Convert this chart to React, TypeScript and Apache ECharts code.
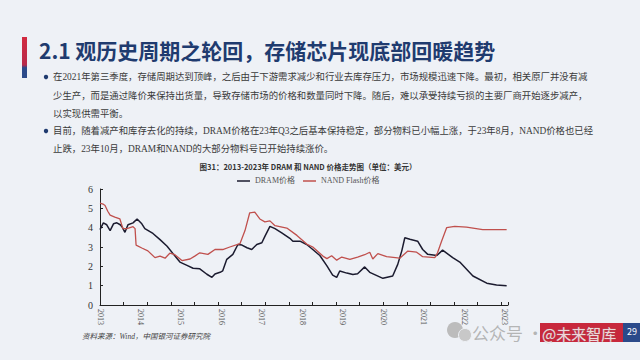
import React, { useEffect, useRef } from "react";
import * as echarts from "echarts";

const yearLabels = ["2013", "2014", "2015", "2016", "2017", "2018", "2019", "2020", "2021", "2022", "2023"];

// [months since Jan 2013, price USD]
const dramData: [number, number][] = [
  [0, 3.9], [1, 4.25], [2, 4.15], [3, 3.85], [4, 4.2], [5, 4.25], [6, 4.15], [6.5, 4.05], [7.4, 3.76],
  [8.3, 4.15], [9.8, 4.25], [11, 4.45], [12.4, 4.2], [13.3, 3.95], [15.7, 3.7], [17.8, 3.38],
  [19.9, 3.04], [21.6, 2.67], [23.7, 2.22], [25.8, 2.05], [27.6, 1.9], [29.6, 1.87], [31.7, 1.59],
  [33.2, 1.43], [34.1, 1.6], [35.6, 1.69], [36.4, 1.77], [37.6, 2.36], [39.4, 2.62], [40.9, 3.13],
  [42.1, 3.1], [43.6, 2.96], [45, 2.87], [46.5, 3.13], [48, 3.22], [48.9, 3.55], [50.4, 4.07],
  [51.9, 3.95], [53.9, 3.73], [56.3, 3.45], [57.2, 3.3], [59.3, 3.3], [61.3, 3.13], [63.1, 2.87],
  [65.2, 2.56], [67.3, 2.02], [69, 1.55], [70.2, 1.43], [71.1, 1.76], [73.2, 1.65], [75, 1.58],
  [76.4, 1.62], [78.5, 1.97], [80, 1.69], [83.9, 1.38], [86.8, 1.5], [88.3, 2.1], [89.5, 2.8],
  [90.4, 3.48], [91.9, 3.4], [94.2, 3.3], [95.7, 2.87], [97.2, 2.62], [99.9, 2.56], [101.6, 2.84],
  [104.6, 2.45], [106.7, 2.22], [110.6, 1.5], [114.7, 1.13], [117.6, 1.03], [120.6, 0.99]
];

const nandData: [number, number][] = [
  [0, 5.27], [0.9, 5.22], [1.5, 5.15], [2.3, 4.85], [3, 4.65], [4.4, 4.55], [5.9, 4.45], [6.8, 3.95],
  [8, 3.95], [9.8, 4.05], [10.4, 3.95], [10.7, 3.1], [12.4, 2.95], [14.2, 2.8], [16.3, 2.45],
  [17.8, 2.53], [19.3, 2.42], [20.7, 2.68], [22.2, 2.6], [24.3, 2.3], [26.7, 2.38], [28.1, 2.53],
  [29.6, 2.7], [32, 2.62], [34.1, 2.87], [36.4, 2.87], [38.5, 3.0], [41.5, 3.17], [43, 3.85],
  [44.4, 4.77], [45.9, 4.8], [47.4, 4.45], [48.9, 4.3], [50.4, 4.35], [51.9, 4.1], [55.4, 3.98],
  [58.4, 3.6], [61.3, 3.15], [63.1, 3.0], [66.1, 2.53], [67.3, 2.4], [68.7, 2.55], [70.2, 2.32],
  [71.7, 2.48], [74.1, 2.36], [76.4, 2.48], [78.5, 2.6], [80, 2.73], [80.9, 2.38], [82.4, 2.66],
  [85, 2.5], [88.9, 2.42], [91.3, 2.79], [93.9, 2.73], [95.7, 2.5], [99.3, 2.45], [100.1, 2.7],
  [101.3, 3.3], [102.8, 4.0], [105.2, 4.07], [108.7, 4.03], [113.5, 3.9], [120.6, 3.9]
];

const titleText = "2.1 观历史周期之轮回，存储芯片现底部回暖趋势";
const bodyLines = [
  "在2021年第三季度，存储周期达到顶峰，之后由于下游需求减少和行业去库存压力，市场规模迅速下降。最初，相关原厂并没有减",
  "少生产，而是通过降价来保持出货量，导致存储市场的价格和数量同时下降。随后，难以承受持续亏损的主要厂商开始逐步减产，",
  "以实现供需平衡。",
  "目前，随着减产和库存去化的持续，DRAM价格在23年Q3之后基本保持稳定，部分物料已小幅上涨，于23年8月，NAND价格也已经",
  "止跌，23年10月，DRAM和NAND的大部分物料号已开始持续涨价。"
];
const bodyY = [77, 96, 114, 131, 149];
const chartTitle = "图31：2013-2023年 DRAM 和 NAND 价格走势图（单位：美元）";
const sourceText = "资料来源：Wind，中国银河证券研究院";

const SERIF = '"Liberation Serif", "Noto Sans CJK SC", serif';
const SANS = '"Noto Sans CJK SC", sans-serif';

export default function App() {
  const ref = useRef<HTMLDivElement>(null);
  useEffect(() => {
    document.body.style.margin = "0";
    const chart = echarts.init(ref.current!, null, { renderer: "svg" });
    const graphics: any[] = [
      {
        type: "rect",
        shape: { x: 22, y: 37, width: 5, height: 41 },
        style: {
          fill: new echarts.graphic.LinearGradient(0, 0, 0, 1, [
            { offset: 0, color: "#d22a40" },
            { offset: 0.68, color: "#b8294a" },
            { offset: 0.75, color: "#2b4a8a" },
            { offset: 1, color: "#2b4a8a" }
          ])
        }
      },
      {
        type: "text",
        x: 39,
        y: 50,
        style: { text: titleText, fontSize: 21, fontWeight: "bold", fontFamily: SANS, fill: "#1f3b6f", verticalAlign: "middle" }
      },
      { type: "circle", shape: { cx: 46, cy: 77, r: 2.2 }, style: { fill: "#1f3b6f" } },
      { type: "circle", shape: { cx: 46, cy: 131, r: 2.2 }, style: { fill: "#1f3b6f" } },
      ...bodyLines.map((t, i) => ({
        type: "text",
        x: 53,
        y: bodyY[i],
        style: { text: t, fontSize: 9.4, fontFamily: SERIF, fill: "#3a3a3a", verticalAlign: "middle" }
      })),
      {
        type: "text",
        x: 308,
        y: 166,
        style: { text: chartTitle, fontSize: 7.5, fontWeight: "bold", fontFamily: SANS, fill: "#333", align: "center", verticalAlign: "middle" }
      },
      {
        type: "text",
        x: 82,
        y: 336,
        style: { text: sourceText, fontSize: 7.5, fontStyle: "italic", fontFamily: SERIF, fill: "#444", verticalAlign: "middle" }
      },
      { type: "rect", shape: { x: 540, y: 323, width: 83, height: 19 }, style: { fill: "#c8283c" } },
      { type: "rect", shape: { x: 623, y: 323, width: 17, height: 19 }, style: { fill: "#2b4a8a" } },
      {
        type: "text",
        x: 632,
        y: 331,
        style: { text: "29", fontSize: 9, fontFamily: SANS, fill: "#ffffff", align: "center", verticalAlign: "middle" }
      },
      { type: "circle", shape: { cx: 455, cy: 330, r: 8 }, style: { fill: "#bcbcbc" } },
      { type: "circle", shape: { cx: 465, cy: 335, r: 6.5 }, style: { fill: "#c8c8c8", stroke: "#eef1f6", lineWidth: 1 } },
      {
        type: "text",
        x: 472,
        y: 332,
        style: { text: "公众号 ·", fontSize: 17, fontFamily: SANS, fill: "rgba(170,170,170,0.85)", verticalAlign: "middle" }
      },
      {
        type: "text",
        x: 542,
        y: 333,
        style: {
          text: "@未来智库",
          fontSize: 15,
          fontFamily: SANS,
          fill: "rgba(255,255,255,0.8)",
          stroke: "rgba(150,150,150,0.6)",
          lineWidth: 0.6,
          verticalAlign: "middle"
        }
      }
    ];

    chart.setOption({
      animation: false,
      backgroundColor: "#eef1f6",
      grid: { left: 100, right: 132, top: 189, bottom: 55 },
      legend: {
        left: 232,
        top: 172,
        itemWidth: 13,
        itemHeight: 1.5,
        itemGap: 8,
        icon: "rect",
        textStyle: { fontSize: 8, fontFamily: SERIF, color: "#555" },
        data: ["DRAM价格", "NAND Flash价格"]
      },
      xAxis: [
        {
          type: "value",
          min: 0,
          max: 121,
          interval: 7,
          axisLine: { show: true, onZero: false, lineStyle: { color: "#222", width: 1 } },
          axisTick: { show: true, inside: true, length: 3, lineStyle: { color: "#222" } },
          axisLabel: { show: false },
          splitLine: { show: false }
        },
        {
          type: "value",
          position: "bottom",
          min: 0,
          max: 121,
          interval: 12,
          axisLine: { show: false },
          axisTick: { show: false },
          splitLine: { show: false },
          axisLabel: {
            rotate: -90,
            margin: 4,
            fontSize: 8,
            fontFamily: SERIF,
            color: "#555",
            showMaxLabel: false,
            formatter: (v: number) => {
              const r = Math.round(v);
              return r % 12 === 0 && r <= 120 ? yearLabels[r / 12] : "";
            }
          }
        }
      ],
      yAxis: {
        type: "value",
        min: 0,
        max: 6,
        interval: 1,
        axisLine: { show: true, lineStyle: { color: "#222", width: 1 } },
        axisTick: { show: true, inside: true, length: 3, lineStyle: { color: "#222" } },
        axisLabel: { fontSize: 10, fontFamily: SERIF, color: "#333", margin: 7 },
        splitLine: { show: false }
      },
      series: [
        {
          name: "DRAM价格",
          type: "line",
          xAxisIndex: 0,
          data: dramData,
          showSymbol: false,
          color: "#1b1b2f",
          lineStyle: { color: "#1b1b2f", width: 1.5 }
        },
        {
          name: "NAND Flash价格",
          type: "line",
          xAxisIndex: 0,
          data: nandData,
          showSymbol: false,
          color: "#c0504d",
          lineStyle: { color: "#c0504d", width: 1.3 }
        }
      ],
      graphic: graphics
    });
    return () => chart.dispose();
  }, []);
  return <div ref={ref} style={{ width: 640, height: 360 }} />;
}
